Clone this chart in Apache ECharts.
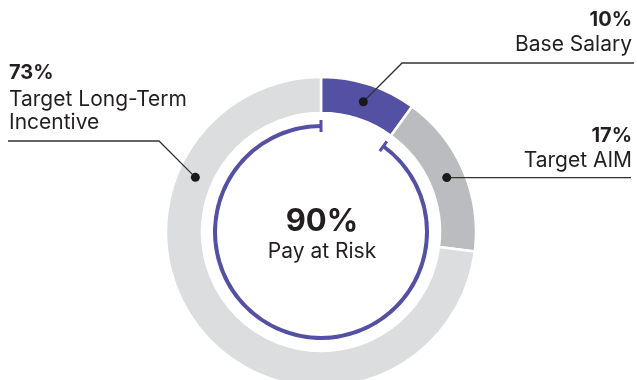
<!DOCTYPE html>
<html>
<head>
<meta charset="utf-8">
<script src="https://cdn.jsdelivr.net/npm/echarts@6/dist/echarts.min.js"></script>
<style>
  html, body { margin: 0; padding: 0; background: #fff; }
  #chart { width: 637px; height: 380px; }
</style>
</head>
<body>
<div id="chart"></div>
<script>
// Pay mix components (percent of target total compensation)
const categories = ['Base Salary', 'Target AIM', 'Target Long-Term\nIncentive'];
const shares = [10, 17, 73];
const sliceColors = ['#5450a3', '#bbbcbf', '#dcdddf'];
const centerValue = '90%';
const centerLabel = 'Pay at Risk';

// Layout
const CX = 321, CY = 232;
const R_OUT = 155, R_IN = 119;
const R_ARC = 106;
const INK = '#231f20';
const FONT = 'Inter, "Open Sans", sans-serif';
// Label blocks: side, horizontal rule y, rule end x, optional dot angle override
const labelLayout = [
  { side: 'right', lineY: 63, endX: 634 },
  { side: 'right', lineY: 179, endX: 631 },
  { side: 'left', lineY: 141, endX: 8, dotAngle: 293.5 }
];

const total = shares.reduce((a, b) => a + b, 0);
const atRisk = total - shares[0];

// angle in degrees, clockwise from 12 o'clock
function pt(angle, r) {
  const t = angle * Math.PI / 180;
  return [CX + r * Math.sin(t), CY - r * Math.cos(t)];
}

const chart = echarts.init(document.getElementById('chart'), null, { renderer: 'canvas' });

const graphics = [];
let acc = 0;
shares.forEach((v, i) => {
  const mid = (acc + v / 2) / total * 360;
  acc += v;
  const L = labelLayout[i];
  const ang = L.dotAngle !== undefined ? L.dotAngle : mid;
  const dot = pt(ang, (R_OUT + R_IN) / 2);
  let pts;
  if (Math.abs(dot[1] - L.lineY) < 2) {
    pts = [dot, [L.endX, dot[1]]];
  } else {
    const d = dot[1] - L.lineY;
    const ex = L.side === 'right' ? dot[0] + d : dot[0] - d;
    pts = [dot, [ex, L.lineY], [L.endX, L.lineY]];
  }
  graphics.push({
    type: 'polyline', silent: true, z: 10,
    shape: { points: pts },
    style: { stroke: '#333', lineWidth: 1.3, fill: null }
  });
  graphics.push({
    type: 'circle', silent: true, z: 11,
    shape: { cx: dot[0], cy: dot[1], r: 4.5 },
    style: { fill: '#1a1a1a' }
  });
  const names = categories[i].split('\n');
  const align = L.side === 'right' ? 'right' : 'left';
  const tx = L.side === 'right' ? 632 : 9;
  let y = L.lineY - 18;
  for (let k = names.length - 1; k >= 0; k--) {
    graphics.push({
      type: 'text', silent: true, z: 12,
      x: tx, y: y,
      style: { text: names[k], fill: INK, font: '400 21px ' + FONT, align: align, verticalAlign: 'middle' }
    });
    y -= 23;
  }
  y -= (L.side === 'right' ? 2 : 4);
  graphics.push({
    type: 'text', silent: true, z: 12,
    x: tx, y: y,
    style: { text: v + '%', fill: INK, font: '700 20px ' + FONT, align: align, verticalAlign: 'middle' }
  });
});

// caps on both ends of the pay-at-risk arc
[shares[0] / total * 360, 360].forEach(a => {
  const p1 = pt(a, R_ARC - 6), p2 = pt(a, R_ARC + 6);
  graphics.push({
    type: 'line', silent: true, z: 9,
    shape: { x1: p1[0], y1: p1[1], x2: p2[0], y2: p2[1] },
    style: { stroke: sliceColors[0], lineWidth: 3 }
  });
});

// centre text
graphics.push({
  type: 'text', silent: true, z: 12, x: CX + 1, y: CY - 10,
  style: { text: centerValue, fill: INK, font: '700 31px ' + FONT, align: 'center', verticalAlign: 'middle' }
});
graphics.push({
  type: 'text', silent: true, z: 12, x: CX + 1, y: CY + 20,
  style: { text: centerLabel, fill: INK, font: '400 21px ' + FONT, align: 'center', verticalAlign: 'middle' }
});

chart.setOption({
  animation: false,
  backgroundColor: '#ffffff',
  series: [
    {
      type: 'pie',
      silent: true,
      center: [CX, CY],
      radius: [R_IN, R_OUT],
      startAngle: 90,
      clockwise: true,
      label: { show: false },
      labelLine: { show: false },
      itemStyle: { borderColor: '#ffffff', borderWidth: 2.5 },
      data: shares.map((v, i) => ({ name: categories[i], value: v, itemStyle: { color: sliceColors[i] } }))
    },
    {
      type: 'pie',
      silent: true,
      center: [CX, CY],
      radius: [R_ARC - 2, R_ARC + 2],
      startAngle: 90,
      clockwise: true,
      label: { show: false },
      labelLine: { show: false },
      data: [
        { name: 'fixed', value: shares[0], itemStyle: { color: 'rgba(0,0,0,0)' } },
        { name: centerLabel, value: atRisk, itemStyle: { color: sliceColors[0] } }
      ]
    }
  ],
  graphic: graphics
});
</script>
</body>
</html>
